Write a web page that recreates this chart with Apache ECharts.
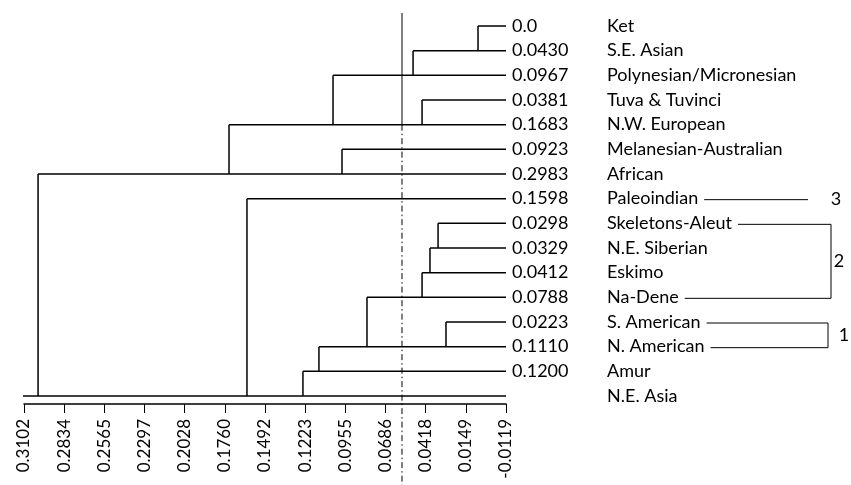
<!DOCTYPE html>
<html>
<head>
<meta charset="utf-8">
<script src="https://cdn.jsdelivr.net/npm/echarts@6/dist/echarts.min.js"></script>
<style>html,body{margin:0;padding:0;background:#fff}#c{width:851px;height:485px}</style>
</head>
<body>
<div id="c"></div>
<script>
// ---- data ----
const rowNames = ['Ket','S.E. Asian','Polynesian/Micronesian','Tuva & Tuvinci','N.W. European',
  'Melanesian-Australian','African','Paleoindian','Skeletons-Aleut','N.E. Siberian','Eskimo',
  'Na-Dene','S. American','N. American','Amur','N.E. Asia'];
const rowValueLabels = ['0.0','0.0430','0.0967','0.0381','0.1683','0.0923','0.2983','0.1598',
  '0.0298','0.0329','0.0412','0.0788','0.0223','0.1110','0.1200',''];
// height (on the distance axis) of the vertical join drawn for each row
const mergeHeights = [0.0068,0.0502,0.1037,0.0442,0.1732,0.0977,0.3008,0.1612,
  0.0335,0.0389,0.0442,0.0810,0.0282,0.1131,0.1238,0.3109];
// row index each row joins into (null = root row)
const mergeInto = [1,2,4,4,6,6,15,15,9,10,11,13,13,14,15,null];
const tickLabels = ['0.3102','0.2834','0.2565','0.2297','0.2028','0.1760','0.1492','0.1223',
  '0.0955','0.0686','0.0418','0.0149','-0.0119'];
const thresholdValue = 0.0576;
const groupLabels = ['3','2','1'];
const groupFirstRow = [7, 8, 12];
const groupLastRow = [7, 11, 13];

// ---- derived ----
const tickValues = tickLabels.map(Number);
const axisMax = tickValues[0];
const axisMin = tickValues[tickValues.length - 1];
const leafEnd = axisMin;

// ---- styling / layout ----
const FONT_FAMILY = 'Lato';
const FONT = '18px ' + FONT_FAMILY;
const LINE_W = 1.5;
const VALUE_GAP = 6, NAME_GAP = 101;
const bracketLayout = [
  {right: 808, labelX: 836},
  {right: 831, labelX: 839},
  {right: 828, labelX: 844}
];
const measure = document.createElement('canvas').getContext('2d');
measure.font = FONT;

const chart = echarts.init(document.getElementById('c'), null, {renderer: 'canvas'});

function treeItem(params, api) {
  const i = params.dataIndex;
  const p0 = api.coord([leafEnd, i]);
  const p1 = api.coord([mergeHeights[i], i]);
  const st = {stroke: '#000', lineWidth: LINE_W, fill: null};
  const children = [
    {type: 'line', shape: {x1: p0[0], y1: p0[1], x2: p1[0], y2: p1[1]}, style: st}
  ];
  if (mergeInto[i] !== null) {
    const p2 = api.coord([mergeHeights[i], mergeInto[i]]);
    children.push({type: 'line', shape: {x1: p1[0], y1: p1[1], x2: p2[0], y2: p2[1]}, style: st});
  }
  if (rowValueLabels[i]) {
    children.push({type: 'text', style: {text: rowValueLabels[i], x: p0[0] + VALUE_GAP, y: p0[1],
      font: FONT, fill: '#000', align: 'left', verticalAlign: 'middle'}});
  }
  children.push({type: 'text', style: {text: rowNames[i], x: p0[0] + NAME_GAP, y: p0[1],
    font: FONT, fill: '#000', align: 'left', verticalAlign: 'middle'}});
  return {type: 'group', children};
}

function thresholdItem(params, api) {
  const top = api.coord([thresholdValue, -0.527]);
  const mid = api.coord([thresholdValue, 4]);
  const bottomY = api.getHeight();
  return {type: 'group', children: [
    {type: 'line', shape: {x1: top[0], y1: top[1], x2: mid[0], y2: mid[1]},
      style: {stroke: '#000', lineWidth: 1}},
    {type: 'line', shape: {x1: mid[0], y1: mid[1], x2: mid[0], y2: bottomY},
      style: {stroke: '#000', lineWidth: 1, lineDash: [6, 3, 1.5, 3]}}
  ]};
}

function bracketItem(params, api) {
  const k = params.dataIndex;
  const lay = bracketLayout[k];
  const st = {stroke: '#000', lineWidth: 1, fill: null};
  const rows = groupFirstRow[k] === groupLastRow[k] ? [groupFirstRow[k]] : [groupFirstRow[k], groupLastRow[k]];
  const children = [];
  const ys = [];
  rows.forEach(r => {
    const p = api.coord([leafEnd, r]);
    const startX = p[0] + NAME_GAP + measure.measureText(rowNames[r]).width + 6;
    children.push({type: 'line', shape: {x1: startX, y1: p[1] + 1, x2: lay.right, y2: p[1] + 1}, style: st});
    ys.push(p[1] + 1);
  });
  if (ys.length > 1) {
    children.push({type: 'line', shape: {x1: lay.right, y1: ys[0], x2: lay.right, y2: ys[1]}, style: st});
  }
  const yMid = (ys[0] + ys[ys.length - 1]) / 2;
  children.push({type: 'text', style: {text: groupLabels[k], x: lay.labelX, y: yMid,
    font: FONT, fill: '#000', align: 'center', verticalAlign: 'middle'}});
  return {type: 'group', children};
}

chart.setOption({
  animation: false,
  backgroundColor: '#fff',
  grid: {left: 24, right: 345, top: 13, bottom: 81},
  xAxis: {
    type: 'value', min: axisMin, max: axisMax, inverse: true,
    splitLine: {show: false},
    axisLine: {show: true, onZero: false, lineStyle: {color: '#000', width: 1.5}},
    axisTick: {show: true, customValues: tickValues, length: 9, inside: false,
      lineStyle: {color: '#000', width: 1}},
    axisLabel: {
      customValues: tickValues, rotate: 90, margin: 15, color: '#000',
      fontFamily: FONT_FAMILY, fontSize: 17,
      formatter: function (v) {
        let best = 0, bd = Infinity;
        tickValues.forEach((t, j) => { const d = Math.abs(t - v); if (d < bd) { bd = d; best = j; } });
        return tickLabels[best];
      }
    }
  },
  yAxis: {type: 'value', min: -0.527, max: 15.324, inverse: true, show: false},
  series: [
    {type: 'custom', renderItem: thresholdItem, data: [[thresholdValue, 0]], encode: {x: 0, y: 1}, z: 1, silent: true},
    {type: 'custom', renderItem: treeItem, data: rowNames.map((n, i) => [mergeHeights[i], i]),
      encode: {x: 0, y: 1}, z: 2, silent: true},
    {type: 'custom', renderItem: bracketItem, data: groupLabels.map((g, k) => [leafEnd, groupFirstRow[k]]),
      encode: {x: 0, y: 1}, z: 2, silent: true}
  ]
});
</script>
</body>
</html>
